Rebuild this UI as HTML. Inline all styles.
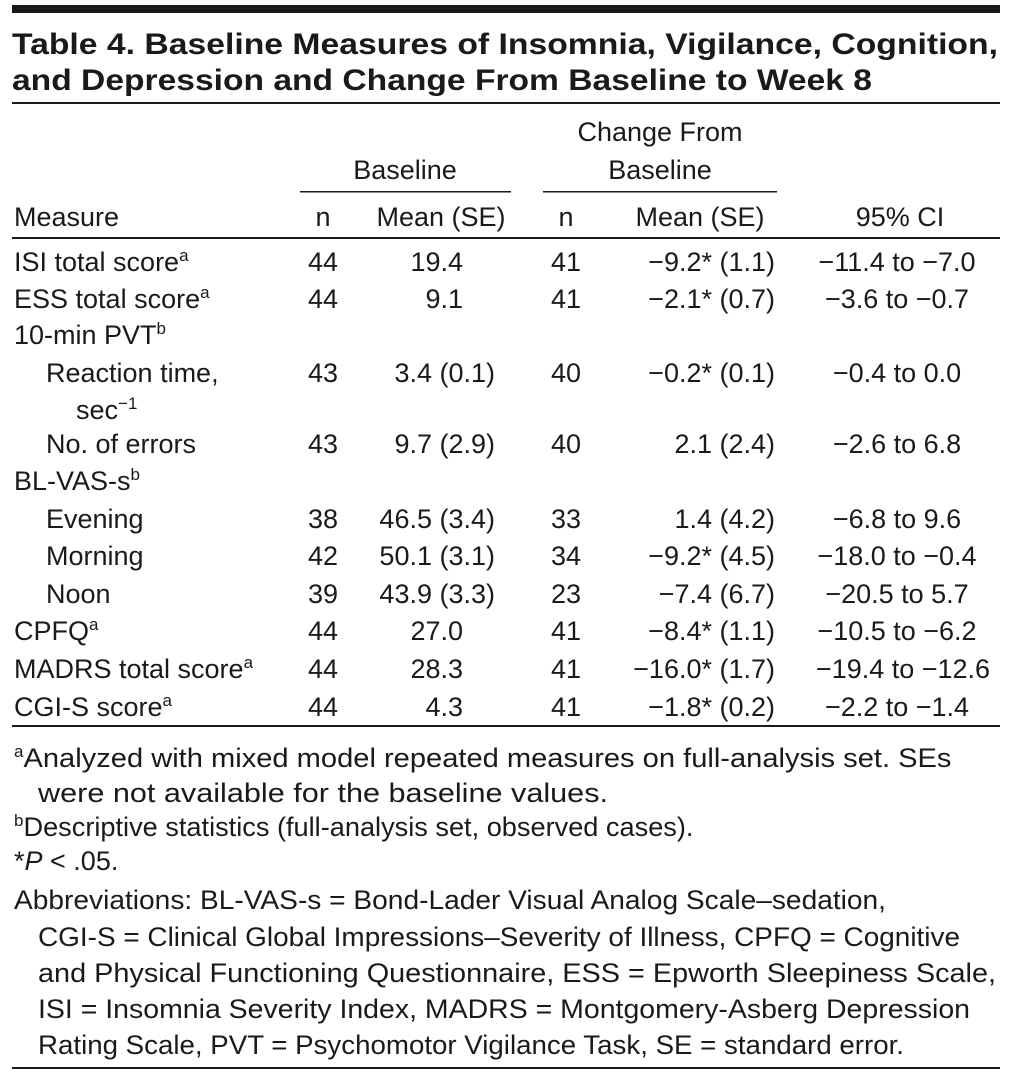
<!DOCTYPE html>
<html><head><meta charset="utf-8"><style>
html,body{margin:0;padding:0;background:#fff;}
svg{display:block;}
text{font-family:"Liberation Sans",sans-serif;fill:#1a1a1a;}
.t{font-size:30px;font-weight:bold;}
.b{font-size:27px;}
.s{font-size:17px;}
</style></head><body>
<svg width="1012" height="1080" viewBox="0 0 1012 1080">
<rect x="12" y="5" width="988" height="8" fill="#1a1a1a"/>
<text class="t" x="12" y="54" textLength="986" lengthAdjust="spacingAndGlyphs">Table 4. Baseline Measures of Insomnia, Vigilance, Cognition,</text>
<text class="t" x="12" y="90" textLength="860" lengthAdjust="spacingAndGlyphs">and Depression and Change From Baseline to Week 8</text>
<rect x="12" y="102" width="988" height="2" fill="#1a1a1a"/>

<g>
<text x="405" y="179" class="b" text-anchor="middle">Baseline</text>
<text x="660" y="141" class="b" text-anchor="middle">Change From</text>
<text x="660" y="179" class="b" text-anchor="middle">Baseline</text>
<rect x="300" y="191" width="211" height="1.5" fill="#1a1a1a"/>
<rect x="543" y="191" width="234" height="1.5" fill="#1a1a1a"/>
<text x="14" y="226" class="b">Measure</text>
<text x="323" y="226" class="b" text-anchor="middle">n</text>
<text x="441" y="226" class="b" text-anchor="middle">Mean (SE)</text>
<text x="566" y="226" class="b" text-anchor="middle">n</text>
<text x="700" y="226" class="b" text-anchor="middle">Mean (SE)</text>
<text x="900" y="226" class="b" text-anchor="middle">95% CI</text>
</g>
<rect x="12" y="237" width="988" height="2" fill="#1a1a1a"/>

<g>
<text x="14" y="271" class="b">ISI total score<tspan class="s" dy="-10">a</tspan></text>
<text x="323" y="271" class="b" text-anchor="middle">44</text><text x="463" y="271" class="b" text-anchor="end">19.4</text><text x="566" y="271" class="b" text-anchor="middle">41</text><text x="775" y="271" class="b" text-anchor="end">−9.2* (1.1)</text><text x="897" y="271" class="b" text-anchor="middle">−11.4 to −7.0</text>

<text x="14" y="308" class="b">ESS total score<tspan class="s" dy="-10">a</tspan></text>
<text x="323" y="308" class="b" text-anchor="middle">44</text><text x="463" y="308" class="b" text-anchor="end">9.1</text><text x="566" y="308" class="b" text-anchor="middle">41</text><text x="775" y="308" class="b" text-anchor="end">−2.1* (0.7)</text><text x="897" y="308" class="b" text-anchor="middle">−3.6 to −0.7</text>

<text x="14" y="344" class="b">10-min PVT<tspan class="s" dy="-10">b</tspan></text>

<text x="46" y="382" class="b">Reaction time,</text>
<text x="76" y="419" class="b">sec<tspan class="s" dy="-10">−1</tspan></text>
<text x="323" y="382" class="b" text-anchor="middle">43</text><text x="495" y="382" class="b" text-anchor="end">3.4 (0.1)</text><text x="566" y="382" class="b" text-anchor="middle">40</text><text x="775" y="382" class="b" text-anchor="end">−0.2* (0.1)</text><text x="897" y="382" class="b" text-anchor="middle">−0.4 to 0.0</text>

<text x="46" y="453" class="b">No. of errors</text>
<text x="323" y="453" class="b" text-anchor="middle">43</text><text x="495" y="453" class="b" text-anchor="end">9.7 (2.9)</text><text x="566" y="453" class="b" text-anchor="middle">40</text><text x="775" y="453" class="b" text-anchor="end">2.1 (2.4)</text><text x="897" y="453" class="b" text-anchor="middle">−2.6 to 6.8</text>

<text x="14" y="490" class="b">BL-VAS-s<tspan class="s" dy="-10">b</tspan></text>

<text x="46" y="528" class="b">Evening</text>
<text x="323" y="528" class="b" text-anchor="middle">38</text><text x="495" y="528" class="b" text-anchor="end">46.5 (3.4)</text><text x="566" y="528" class="b" text-anchor="middle">33</text><text x="775" y="528" class="b" text-anchor="end">1.4 (4.2)</text><text x="897" y="528" class="b" text-anchor="middle">−6.8 to 9.6</text>

<text x="46" y="565" class="b">Morning</text>
<text x="323" y="565" class="b" text-anchor="middle">42</text><text x="495" y="565" class="b" text-anchor="end">50.1 (3.1)</text><text x="566" y="565" class="b" text-anchor="middle">34</text><text x="775" y="565" class="b" text-anchor="end">−9.2* (4.5)</text><text x="897" y="565" class="b" text-anchor="middle">−18.0 to −0.4</text>

<text x="46" y="603" class="b">Noon</text>
<text x="323" y="603" class="b" text-anchor="middle">39</text><text x="495" y="603" class="b" text-anchor="end">43.9 (3.3)</text><text x="566" y="603" class="b" text-anchor="middle">23</text><text x="775" y="603" class="b" text-anchor="end">−7.4 (6.7)</text><text x="897" y="603" class="b" text-anchor="middle">−20.5 to 5.7</text>

<text x="14" y="640" class="b">CPFQ<tspan class="s" dy="-10">a</tspan></text>
<text x="323" y="640" class="b" text-anchor="middle">44</text><text x="463" y="640" class="b" text-anchor="end">27.0</text><text x="566" y="640" class="b" text-anchor="middle">41</text><text x="775" y="640" class="b" text-anchor="end">−8.4* (1.1)</text><text x="897" y="640" class="b" text-anchor="middle">−10.5 to −6.2</text>

<text x="14" y="678" class="b">MADRS total score<tspan class="s" dy="-10">a</tspan></text>
<text x="323" y="678" class="b" text-anchor="middle">44</text><text x="463" y="678" class="b" text-anchor="end">28.3</text><text x="566" y="678" class="b" text-anchor="middle">41</text><text x="775" y="678" class="b" text-anchor="end">−16.0* (1.7)</text><text x="903" y="678" class="b" text-anchor="middle">−19.4 to −12.6</text>

<text x="14" y="716" class="b">CGI-S score<tspan class="s" dy="-10">a</tspan></text>
<text x="323" y="716" class="b" text-anchor="middle">44</text><text x="463" y="716" class="b" text-anchor="end">4.3</text><text x="566" y="716" class="b" text-anchor="middle">41</text><text x="775" y="716" class="b" text-anchor="end">−1.8* (0.2)</text><text x="897" y="716" class="b" text-anchor="middle">−2.2 to −1.4</text>
</g>
<rect x="12" y="725" width="988" height="2" fill="#1a1a1a"/>

<g>
<text x="14" y="767" class="b"><tspan class="s" dy="-10">a</tspan><tspan dy="10" textLength="928" lengthAdjust="spacingAndGlyphs">Analyzed with mixed model repeated measures on full-analysis set. SEs</tspan></text>
<text x="38" y="802" class="b" textLength="570" lengthAdjust="spacingAndGlyphs">were not available for the baseline values.</text>
<text x="14" y="836" class="b"><tspan class="s" dy="-10">b</tspan><tspan dy="10" textLength="670" lengthAdjust="spacingAndGlyphs">Descriptive statistics (full-analysis set, observed cases).</tspan></text>
<text x="14" y="870" class="b">*<tspan font-style="italic">P</tspan> &lt; .05.</text>
<text x="14" y="909" class="b" textLength="872" lengthAdjust="spacingAndGlyphs">Abbreviations: BL-VAS-s = Bond-Lader Visual Analog Scale–sedation,</text>
<text x="38" y="946" class="b" textLength="922" lengthAdjust="spacingAndGlyphs">CGI-S = Clinical Global Impressions–Severity of Illness, CPFQ = Cognitive</text>
<text x="38" y="982" class="b" textLength="958" lengthAdjust="spacingAndGlyphs">and Physical Functioning Questionnaire, ESS = Epworth Sleepiness Scale,</text>
<text x="38" y="1018" class="b" textLength="932" lengthAdjust="spacingAndGlyphs">ISI = Insomnia Severity Index, MADRS = Montgomery-Asberg Depression</text>
<text x="38" y="1054" class="b" textLength="866" lengthAdjust="spacingAndGlyphs">Rating Scale, PVT = Psychomotor Vigilance Task, SE = standard error.</text>
</g>
<rect x="12" y="1067" width="988" height="2" fill="#1a1a1a"/>
</svg>
</body></html>
